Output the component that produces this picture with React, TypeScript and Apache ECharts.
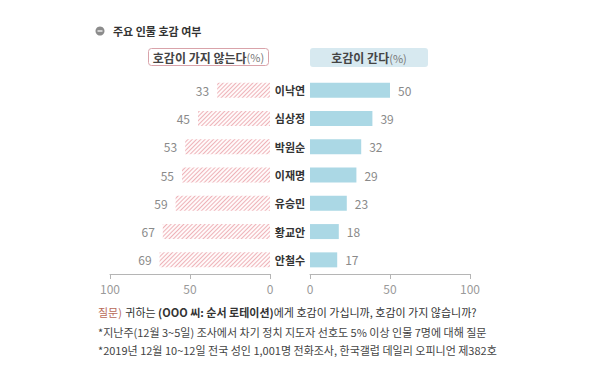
import React, { useEffect, useRef } from "react";
import * as echarts from "echarts";

const names = ["이낙연", "심상정", "박원순", "이재명", "유승민", "황교안", "안철수"];
const dislike = [33, 45, 53, 55, 59, 67, 69];
const like = [50, 39, 32, 29, 23, 18, 17];
const axisTicks = [0, 50, 100];
const title = "주요 인물 호감 여부";
const legendDislike = "호감이 가지 않는다";
const legendLike = "호감이 간다";
const footer1 = "귀하는 ";
const footer1b = "(OOO 씨: 순서 로테이션)";
const footer1c = "에게 호감이 가십니까, 호감이 가지 않습니까?";
const footer2 = "*지난주(12월 3~5일) 조사에서 차기 정치 지도자 선호도 5% 이상 인물 7명에 대해 질문";
const footer3 = "*2019년 12월 10~12일 전국 성인 1,001명 전화조사, 한국갤럽 데일리 오피니언 제382호";

const FONT = "'Noto Sans CJK KR', 'Noto Sans', sans-serif";

export default function App() {
  const ref = useRef<HTMLDivElement>(null);
  useEffect(() => {
    if (!ref.current) return;
    const chart = echarts.init(ref.current, null, { renderer: "svg" });
    const axisCommon = {
      type: "value",
      min: axisTicks[0],
      max: axisTicks[axisTicks.length - 1],
      interval: 50,
      splitLine: { show: false },
      axisLine: { show: true, lineStyle: { color: "#b5b5b5", width: 1 } },
      axisTick: { show: true, length: 5, lineStyle: { color: "#b5b5b5" } },
      axisLabel: { color: "#9a9a9a", fontSize: 12, fontFamily: FONT, margin: 8 },
    };
    chart.setOption({
      animation: false,
      textStyle: { fontFamily: FONT },
      grid: [
        { left: 110, width: 160, top: 76, height: 198 },
        { left: 310, width: 160, top: 76, height: 198 },
      ],
      xAxis: [
        { ...axisCommon, gridIndex: 0, inverse: true },
        { ...axisCommon, gridIndex: 1 },
      ],
      yAxis: [
        {
          type: "category",
          gridIndex: 0,
          data: names,
          inverse: true,
          show: false,
        },
        {
          type: "category",
          gridIndex: 1,
          data: names,
          inverse: true,
          axisLine: { show: false },
          axisTick: { show: false },
          axisLabel: {
            show: true,
            align: "center",
            margin: 20,
            color: "#333",
            fontWeight: "bold",
            fontSize: 11,
            fontFamily: FONT,
          },
        },
      ],
      series: [
        {
          type: "bar",
          xAxisIndex: 0,
          yAxisIndex: 0,
          data: dislike,
          barWidth: 15,
          itemStyle: {
            color: "#fffafa",
            decal: {
              symbol: "rect",
              symbolSize: 1,
              dashArrayX: [1, 0],
              dashArrayY: [1, 1.8],
              rotation: -Math.PI / 4,
              color: "#eeb3b9",
            },
          },
          label: {
            show: true,
            position: "left",
            distance: 8,
            color: "#8a8a8a",
            fontSize: 12,
            fontFamily: FONT,
          },
        },
        {
          type: "bar",
          xAxisIndex: 1,
          yAxisIndex: 1,
          data: like,
          barWidth: 15,
          itemStyle: { color: "#abd8e5" },
          label: {
            show: true,
            position: "right",
            distance: 8,
            color: "#8a8a8a",
            fontSize: 12,
            fontFamily: FONT,
          },
        },
      ],
      graphic: [
        { type: "circle", shape: { cx: 100, cy: 31, r: 4.5 }, style: { fill: "#8c8c8c" } },
        { type: "line", shape: { x1: 97.5, y1: 31, x2: 102.5, y2: 31 }, style: { stroke: "#fff", lineWidth: 1.2 } },
        {
          type: "text",
          x: 113,
          y: 31,
          style: {
            text: title,
            fill: "#333",
            font: `bold 11px ${FONT}`,
            verticalAlign: "middle",
          },
        },
        {
          type: "rect",
          shape: { x: 148.5, y: 48.5, width: 120, height: 17, r: 3 },
          style: { fill: "#fff", stroke: "#d9a3aa", lineWidth: 1 },
        },
        {
          type: "text",
          x: 208.5,
          y: 57,
          style: {
            text: `{a|${legendDislike}}{b|(%)}`,
            align: "center",
            verticalAlign: "middle",
            rich: {
              a: { fontFamily: FONT, fontSize: 12, fontWeight: "bold", fill: "#444" },
              b: { fontFamily: FONT, fontSize: 11, fill: "#777" },
            },
          },
        },
        {
          type: "rect",
          shape: { x: 310, y: 48, width: 118, height: 19, r: 3 },
          style: { fill: "#d7e9f0" },
        },
        {
          type: "text",
          x: 369,
          y: 57.5,
          style: {
            text: `{a|${legendLike}}{b|(%)}`,
            align: "center",
            verticalAlign: "middle",
            rich: {
              a: { fontFamily: FONT, fontSize: 12, fontWeight: "bold", fill: "#444" },
              b: { fontFamily: FONT, fontSize: 11, fill: "#777" },
            },
          },
        },
        {
          type: "text",
          x: 98,
          y: 312,
          style: {
            text: `{q|질문)} {n|${footer1}}{b|${footer1b}}{n|${footer1c}}`,
            verticalAlign: "middle",
            rich: {
              q: { fontFamily: FONT, fontSize: 11, fill: "#b86a58" },
              n: { fontFamily: FONT, fontSize: 11, fill: "#333" },
              b: { fontFamily: FONT, fontSize: 11, fontWeight: "bold", fill: "#333" },
            },
          },
        },
        {
          type: "text",
          x: 98,
          y: 332,
          style: { text: footer2, fill: "#444", font: `11px ${FONT}`, verticalAlign: "middle" },
        },
        {
          type: "text",
          x: 98,
          y: 350,
          style: { text: footer3, fill: "#444", font: `11px ${FONT}`, verticalAlign: "middle" },
        },
      ],
    });
    return () => chart.dispose();
  }, []);
  return <div ref={ref} style={{ width: 600, height: 384, margin: -8, background: "#fff" }} />;
}
